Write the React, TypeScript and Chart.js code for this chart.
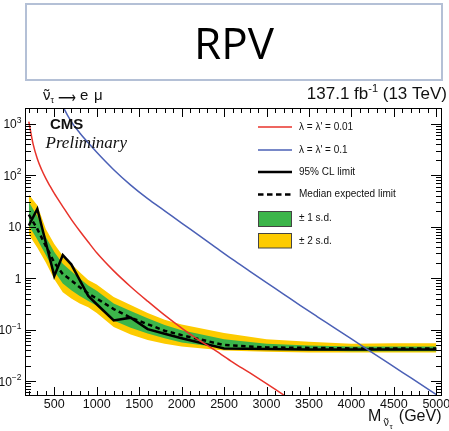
import React, { useEffect, useRef } from "react";
import { Chart, registerables } from "chart.js";

Chart.register(...registerables);

// ---- data ----
const massPoints = [200, 300, 400, 500, 600, 700, 800, 900, 1000, 1200, 1400, 1600, 1800, 2000, 2500, 3000, 3500, 4000, 4500, 5000];
const observedLimit = [10.5, 22, 4.9, 1.1, 2.8, 1.85, 0.91, 0.45, 0.31, 0.15, 0.17, 0.102, 0.083, 0.068, 0.043, 0.042, 0.041, 0.041, 0.041, 0.041];
const expectedLimit = [17, 9, 4.2, 2.0, 1.2, 0.9, 0.66, 0.5, 0.4, 0.25, 0.17, 0.127, 0.095, 0.078, 0.05, 0.045, 0.044, 0.043, 0.043, 0.043];
const oneSigmaHigh = [30, 16, 6.3, 3.2, 1.9, 1.35, 0.98, 0.72, 0.57, 0.32, 0.23, 0.165, 0.122, 0.097, 0.065, 0.053, 0.049, 0.047, 0.047, 0.047];
const oneSigmaLow = [10.5, 5.6, 2.8, 1.35, 0.78, 0.58, 0.45, 0.36, 0.29, 0.15, 0.108, 0.084, 0.068, 0.056, 0.044, 0.04, 0.039, 0.038, 0.038, 0.038];
const twoSigmaHigh = [42, 26, 9, 4.6, 2.7, 1.9, 1.3, 0.92, 0.75, 0.43, 0.3, 0.21, 0.155, 0.125, 0.086, 0.065, 0.058, 0.053, 0.054, 0.054];
const twoSigmaLow = [7, 3.9, 2.0, 0.95, 0.53, 0.4, 0.32, 0.27, 0.21, 0.112, 0.08, 0.063, 0.053, 0.047, 0.039, 0.037, 0.036, 0.036, 0.036, 0.036];

const redMass = [200, 250, 300, 350, 400, 450, 500, 600, 700, 800, 900, 1000, 1200, 1400, 1600, 1800, 2000, 2200, 2400, 2600, 2800, 3000, 3200, 3400];
const redXsec = [1090, 405, 208, 128, 86, 61, 44, 24.5, 13.8, 8.2, 5.0, 3.1, 1.38, 0.68, 0.355, 0.19, 0.107, 0.063, 0.039, 0.0234, 0.0145, 0.0089, 0.0054, 0.0033];
const blueMass = [500, 600, 700, 800, 900, 1000, 1200, 1400, 1600, 1800, 2000, 2200, 2400, 2600, 2800, 3000, 3200, 3400, 3600, 3800, 4000, 4200, 4400, 4600, 4800, 5000];
const blueXsec = [5500, 2190, 1096, 658, 423, 277, 127, 63.8, 34.8, 20.2, 11.7, 6.81, 3.95, 2.3, 1.37, 0.818, 0.489, 0.292, 0.177, 0.108, 0.0656, 0.0399, 0.0243, 0.0148, 0.00897, 0.00546];

const xTickValues = [500, 1000, 1500, 2000, 2500, 3000, 3500, 4000, 4500, 5000];
const yTickValues = [0.01, 0.1, 1, 10, 100, 1000];
const yTickBase = ["10", "10", "1", "10", "10", "10"];
const yTickExp = ["\u22122", "\u22121", "", "", "2", "3"];

const legendLabels = ["\u03BB = \u03BB' = 0.01", "\u03BB = \u03BB' = 0.1", "95% CL limit", "Median expected limit", "\u00B1 1 s.d.", "\u00B1 2 s.d."];

const RED = "#e8332b";
const BLUE = "#4b60b6";
const GREEN = "#3cb54a";
const YELLOW = "#fdcb00";
const INK = "#111";
const SANS = "'Liberation Sans', Arial, sans-serif";

const pts = (xs: number[], ys: number[]) => xs.map((m, i) => ({ x: m, y: ys[i] }));

function nuTilde(ctx: CanvasRenderingContext2D, x: number, y: number, size: number) {
  ctx.textAlign = "left";
  ctx.textBaseline = "alphabetic";
  ctx.font = `${size}px ${SANS}`;
  ctx.fillText("\u03BD", x, y);
  const w = ctx.measureText("\u03BD").width;
  const tw = ctx.measureText("\u02DC").width;
  ctx.fillText("\u02DC", x + (w - tw) / 2, y + size * 0.02);
  return w;
}

const decorations = {
  id: "decorations",
  afterDatasetsDraw(chart: any) {
    const { ctx, chartArea: a, scales } = chart;
    const xs = scales.x;
    const ys = scales.y;
    ctx.save();
    ctx.strokeStyle = "#000";
    ctx.lineWidth = 1;
    ctx.setLineDash([]);
    ctx.strokeRect(a.left + 0.5, a.top + 0.5, a.right - a.left - 1, a.bottom - a.top - 1);
    ctx.beginPath();
    for (let v = 200; v <= 5000; v += 100) {
      const px = Math.round(xs.getPixelForValue(v)) + 0.5;
      const len = v % 500 === 0 ? 9 : 5;
      ctx.moveTo(px, a.bottom); ctx.lineTo(px, a.bottom - len);
      ctx.moveTo(px, a.top); ctx.lineTo(px, a.top + len);
    }
    for (let k = -3; k <= 3; k++) {
      for (let m = 1; m <= 9; m++) {
        const v = m * Math.pow(10, k);
        if (v < ys.min || v > ys.max) continue;
        const py = Math.round(ys.getPixelForValue(v)) + 0.5;
        const len = m === 1 ? 11 : 6;
        ctx.moveTo(a.left, py); ctx.lineTo(a.left + len, py);
        ctx.moveTo(a.right, py); ctx.lineTo(a.right - len, py);
      }
    }
    ctx.stroke();

    // x tick labels
    ctx.fillStyle = INK;
    ctx.font = `12.5px ${SANS}`;
    ctx.textAlign = "center";
    ctx.textBaseline = "alphabetic";
    xTickValues.forEach((v) => {
      ctx.fillText(String(v), xs.getPixelForValue(v), 407.5);
    });
    // y tick labels
    yTickValues.forEach((v, i) => {
      const py = ys.getPixelForValue(v);
      ctx.textAlign = "right";
      ctx.textBaseline = "alphabetic";
      let x = 21.5;
      if (yTickExp[i]) {
        ctx.font = `8.5px ${SANS}`;
        ctx.fillText(yTickExp[i], x, py - 1);
        x -= ctx.measureText(yTickExp[i]).width;
      }
      ctx.font = `12px ${SANS}`;
      ctx.fillText(yTickBase[i], x, py + 4.5);
    });

    // CMS / Preliminary
    ctx.textAlign = "left";
    ctx.font = `bold 15px ${SANS}`;
    ctx.fillText("CMS", 50, 128.5);
    ctx.font = `italic 17px 'Liberation Serif', 'Times New Roman', serif`;
    ctx.fillText("Preliminary", 45.5, 148);

    // process label above the frame
    nuTilde(ctx, 43, 100, 15);
    ctx.font = `9px ${SANS}`;
    ctx.fillText("\u03C4", 50.5, 103);
    ctx.font = `16px 'DejaVu Sans', ${SANS}`;
    const aw = ctx.measureText("\u27F6").width || 16;
    ctx.save();
    ctx.translate(58, 0);
    ctx.scale(18 / aw, 1);
    ctx.fillText("\u27F6", 0, 102.5);
    ctx.restore();
    ctx.font = `15px ${SANS}`;
    ctx.fillText("e", 80, 100);
    ctx.fillText("\u03BC", 94, 100);

    // luminosity label
    ctx.font = `17px ${SANS}`;
    const tail = " (13 TeV)";
    const head = "137.1 fb";
    let xr = 447;
    ctx.textAlign = "right";
    ctx.fillText(tail, xr, 99);
    xr -= ctx.measureText(tail).width;
    ctx.font = `11px ${SANS}`;
    ctx.fillText("-1", xr, 91.5);
    xr -= ctx.measureText("-1").width;
    ctx.font = `17px ${SANS}`;
    ctx.fillText(head, xr, 99);

    // x axis title
    ctx.textAlign = "right";
    ctx.font = `16px ${SANS}`;
    ctx.fillText("(GeV)", 441.5, 421);
    ctx.textAlign = "left";
    ctx.fillText("M", 368, 421);
    nuTilde(ctx, 383.5, 425.5, 11);
    ctx.font = `8px ${SANS}`;
    ctx.fillText("\u03C4", 389.5, 429);

    // legend
    const lx0 = 258, lx1 = 292, tx = 299;
    const rows = [127, 150, 172, 194.5, 218, 241];
    ctx.lineCap = "butt";
    ctx.strokeStyle = RED; ctx.lineWidth = 1.5;
    ctx.beginPath(); ctx.moveTo(lx0, rows[0]); ctx.lineTo(lx1, rows[0]); ctx.stroke();
    ctx.strokeStyle = BLUE;
    ctx.beginPath(); ctx.moveTo(lx0, rows[1]); ctx.lineTo(lx1, rows[1]); ctx.stroke();
    ctx.strokeStyle = "#000"; ctx.lineWidth = 2.5;
    ctx.beginPath(); ctx.moveTo(lx0, rows[2]); ctx.lineTo(lx1, rows[2]); ctx.stroke();
    ctx.setLineDash([5.5, 3.5]);
    ctx.beginPath(); ctx.moveTo(lx0, rows[3]); ctx.lineTo(lx1, rows[3]); ctx.stroke();
    ctx.setLineDash([]);
    ctx.lineWidth = 1;
    ctx.strokeStyle = "#444";
    ctx.fillStyle = GREEN;
    ctx.fillRect(lx0, 211, lx1 - lx0, 15.5);
    ctx.strokeRect(lx0 + 0.5, 211.5, lx1 - lx0 - 1, 15);
    ctx.fillStyle = YELLOW;
    ctx.fillRect(lx0, 233, lx1 - lx0, 15);
    ctx.strokeRect(lx0 + 0.5, 233.5, lx1 - lx0 - 1, 14.5);

    ctx.fillStyle = INK;
    ctx.font = `10px ${SANS}`;
    ctx.textAlign = "left";
    ctx.textBaseline = "middle";
    legendLabels.forEach((t, i) => ctx.fillText(t, tx, rows[i]));
    ctx.restore();
  },
};

export default function App() {
  const ref = useRef<HTMLCanvasElement>(null);
  useEffect(() => {
    if (!ref.current) return;
    const band = { pointRadius: 0, borderWidth: 0, borderColor: "rgba(0,0,0,0)", tension: 0 };
    const chart = new Chart(ref.current, {
      type: "line",
      data: {
        datasets: [
          { label: legendLabels[1], data: pts(blueMass, blueXsec), borderColor: BLUE, borderWidth: 1.5, pointRadius: 0, cubicInterpolationMode: "monotone", fill: false, order: 0 },
          { label: legendLabels[0], data: pts(redMass, redXsec), borderColor: RED, borderWidth: 1.5, pointRadius: 0, cubicInterpolationMode: "monotone", fill: false, order: 1 },
          { label: legendLabels[2], data: pts(massPoints, observedLimit), borderColor: "#000", borderWidth: 2.5, pointRadius: 0, tension: 0, fill: false, order: 2 },
          { label: legendLabels[3], data: pts(massPoints, expectedLimit), borderColor: "#000", borderWidth: 2.5, borderDash: [4.5, 3.5], pointRadius: 0, tension: 0, fill: false, order: 3 },
          { label: legendLabels[4], data: pts(massPoints, oneSigmaHigh), ...band, backgroundColor: GREEN, fill: "+1", order: 4 },
          { label: "1s low", data: pts(massPoints, oneSigmaLow), ...band, fill: false, order: 5 },
          { label: legendLabels[5], data: pts(massPoints, twoSigmaHigh), ...band, backgroundColor: YELLOW, fill: "+1", order: 6 },
          { label: "2s low", data: pts(massPoints, twoSigmaLow), ...band, fill: false, order: 7 },
        ] as any,
      },
      options: {
        responsive: false,
        animation: false,
        events: [],
        layout: { padding: { left: 25, top: 108, right: 7, bottom: 35 } },
        scales: {
          x: { type: "linear", min: 155, max: 5067, display: false },
          y: { type: "logarithmic", min: 0.00512, max: 2010, display: false },
        },
        plugins: { legend: { display: false }, tooltip: { enabled: false } },
      },
      plugins: [decorations],
    });
    return () => chart.destroy();
  }, []);

  return (
    <div style={{ position: "fixed", left: 0, top: 0, width: 449, height: 431, background: "#fff" }}>
      <canvas ref={ref} width={449} height={431} style={{ position: "absolute", left: 0, top: 0, display: "block" }} />
      <div
        style={{
          position: "absolute",
          left: 25,
          top: 3,
          width: 418,
          height: 78,
          boxSizing: "border-box",
          border: "2px solid #b4c0d6",
          display: "flex",
          alignItems: "center",
          justifyContent: "center",
          fontFamily: "'Open Sans', sans-serif",
          fontSize: 44,
          color: "#000",
        }}
      >
        RPV
      </div>
    </div>
  );
}
